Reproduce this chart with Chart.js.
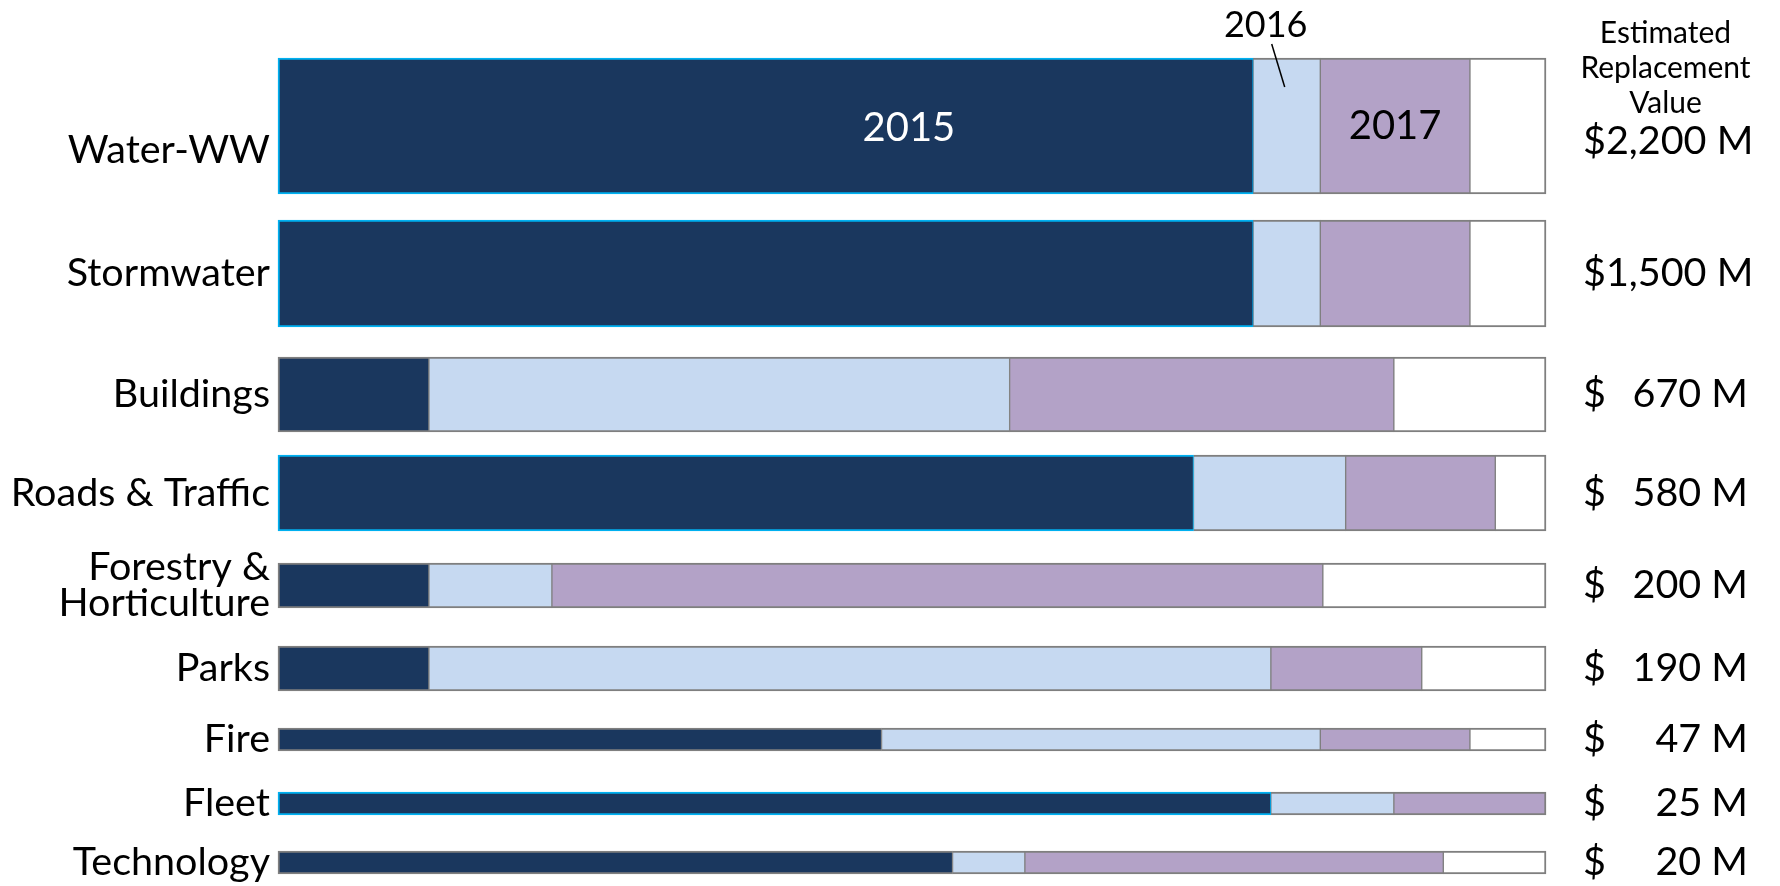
<!DOCTYPE html>
<html>
<head>
<meta charset="utf-8">
<style>
  html, body { margin: 0; padding: 0; background: #fff; }
  #wrap { width: 1780px; height: 886px; }
</style>
</head>
<body>
<div id="wrap"><canvas id="assetChart"></canvas></div>

<script src="https://cdn.jsdelivr.net/npm/chart.js"></script>

<script>
  // share of each asset class covered per year (% of the bar)
  const categories = ['Water-WW', 'Stormwater', 'Buildings', 'Roads & Traffic', ['Forestry &', 'Horticulture'], 'Parks', 'Fire', 'Fleet', 'Technology'];
  const pct2015 = [76.9, 76.9, 11.9, 72.2, 11.9, 11.9, 47.6, 78.3, 53.2];
  const pct2016 = [5.3, 5.3, 45.8, 12.0, 9.7, 66.4, 34.6, 9.7, 5.7];
  const pct2017 = [11.8, 11.8, 30.3, 11.8, 60.8, 11.9, 11.8, 12.0, 33.0];
  const replacementValue = ['2,200', '1,500', '670', '580', '200', '190', '47', '25', '20'];
  const yearLabels = ['2015', '2016', '2017'];
  const headerLines = ['Estimated', 'Replacement', 'Value'];

  // layout + style (px)
  const barHeight = [136, 107, 75, 76, 45, 45, 23, 23, 23];
  const gapBefore = [58, 26, 30, 23, 32, 38, 37, 41, 36];
  const cyanEdge = [true, true, false, true, false, false, false, true, false];
  const colors = ['#1a375e', '#c6d9f1', '#b3a2c7', '#ffffff'];
  const grey = '#7f7f7f';
  const cyan = '#00b0f0';
  const FONT = 'Lato';

  // row centres, in pixels from the top of the canvas
  const rowCenter = [];
  let pos = 0;
  barHeight.forEach((h, i) => {
    pos += gapBefore[i];
    rowCenter.push(pos + h / 2);
    pos += h;
  });

  const datasets = [];
  categories.forEach((cat, i) => {
    const rest = 100 - pct2015[i] - pct2016[i] - pct2017[i];
    const parts = [pct2015[i], pct2016[i], pct2017[i], rest];
    parts.forEach((v, s) => {
      if (v <= 0.05) return;
      datasets.push({
        label: (s < 3 ? yearLabels[s] : 'remaining') + ' ' + i,
        data: [{ x: v, y: rowCenter[i] }],
        row: i,
        seg: s,
        stack: 'all',
        clip: false,
        barThickness: barHeight[i],
        backgroundColor: colors[s],
        borderColor: (s === 0 && cyanEdge[i]) ? cyan : grey,
        borderWidth: { top: 2, bottom: 2, left: s === 0 ? 2 : 1, right: s === parts.length - 1 || (s === 2 && rest <= 0.05) ? 2 : 1 },
        borderSkipped: false
      });
    });
  });

  const sideText = {
    id: 'sideText',
    afterDraw(chart) {
      const { ctx, chartArea, scales: { y } } = chart;
      ctx.save();
      ctx.fillStyle = '#000';
      ctx.textBaseline = 'middle';

      // replacement values, accounting style: $ on the left, number on the right
      const xDollar = chartArea.right + 37;
      const xRight = chart.width - 32;
      ctx.font = '39.5px ' + FONT;
      replacementValue.forEach((v, i) => {
        const yy = y.getPixelForValue(rowCenter[i]) + (i === 0 ? 15 : 0);
        const full = '$' + v + ' M';
        ctx.textAlign = 'left';
        if (xDollar + ctx.measureText(full).width > xRight - 4) {
          ctx.fillText(full, xDollar, yy);
        } else {
          ctx.fillText('$', xDollar, yy);
          ctx.textAlign = 'right';
          ctx.fillText(v + ' M', xRight, yy);
        }
      });

      // header
      const valueY = y.getPixelForValue(rowCenter[0]) + 15;
      ctx.font = '30px ' + FONT;
      ctx.textAlign = 'center';
      headerLines.forEach((t, k) => {
        ctx.fillText(t, (xDollar + xRight) / 2, valueY - 38 - 35 * (headerLines.length - 1 - k));
      });

      // year annotations on the first bar
      const segEl = s => {
        const idx = datasets.findIndex(d => d.row === 0 && d.seg === s);
        return chart.getDatasetMeta(idx).data[0];
      };
      const e15 = segEl(0), e16 = segEl(1), e17 = segEl(2);
      ctx.font = '40px ' + FONT;
      ctx.fillStyle = '#fff';
      ctx.fillText(yearLabels[0], e15.base + (e15.x - e15.base) * 0.647, e15.y + 2);
      ctx.fillStyle = '#000';
      ctx.fillText(yearLabels[2], (e17.base + e17.x) / 2, e17.y);

      const c16 = (e16.base + e16.x) / 2;
      const top16 = e16.y - e16.height / 2;
      const tx = c16 - 21, ty = top16 - 33;
      ctx.font = '36px ' + FONT;
      ctx.fillText(yearLabels[1], tx, ty);
      ctx.strokeStyle = '#000';
      ctx.lineWidth = 1.5;
      ctx.beginPath();
      ctx.moveTo(tx + 6, ty + 19);
      ctx.lineTo(c16 - 2, top16 + 29);
      ctx.stroke();
      ctx.restore();
    }
  };

  const ctx = document.getElementById('assetChart');
  const chart = new Chart(ctx, {
    type: 'bar',
    data: { datasets: datasets },
    plugins: [sideText],
    options: {
      indexAxis: 'y',
      responsive: true,
      maintainAspectRatio: false,
      animation: false,
      layout: { padding: { left: 0, right: 234, top: 0, bottom: 0 } },
      plugins: {
        legend: { display: false },
        tooltip: { enabled: false }
      },
      scales: {
        x: { type: 'linear', stacked: true, min: 0, max: 100, display: false },
        y: {
          type: 'linear',
          stacked: true,
          reverse: true,
          offset: false,
          min: 0,
          max: 886,
          grid: { display: false },
          border: { display: false },
          afterBuildTicks: scale => { scale.ticks = rowCenter.map(v => ({ value: v })); },
          afterFit: scale => { scale.width = 278; },
          ticks: {
            autoSkip: false,
            padding: 0,
            color: '#000',
            font: c => ({ family: FONT, size: 39.5, lineHeight: c.index === 0 ? 1.22 : 0.92 }),
            callback: (value, index) => index === 0 ? ['', categories[0]] : categories[index]
          }
        }
      }
    }
  });

  // make one axis unit equal one canvas pixel
  const area = chart.chartArea;
  chart.options.scales.y.min = area.top;
  chart.options.scales.y.max = area.bottom;
  chart.update('none');
</script>
</body>
</html>
